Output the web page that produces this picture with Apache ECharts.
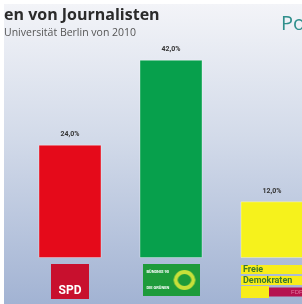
<!DOCTYPE html>
<html>
<head>
<meta charset="utf-8">
<script src="https://cdn.jsdelivr.net/npm/echarts@6/dist/echarts.min.js"></script>
<style>
  html, body { margin: 0; padding: 0; background: #fff; }
  #chart { width: 302px; height: 304px; }
</style>
</head>
<body>
<div id="chart"></div>
<script>
// Umfrage: Parteipräferenzen von Journalisten (FU Berlin, 2010)
const parties = ['SPD', 'Grüne', 'FDP'];
const shares = [24.0, 42.0, 12.0];
const barColors = ['#e50a1a', '#07a04c', '#f6f21c'];

// green logo background: box + sunflower ring, split in two halves (one per text line)
function greenHalf(top) {
    const c = document.createElement('canvas');
    c.width = 57; c.height = 16;
    const ctx = c.getContext('2d');
    ctx.fillStyle = '#1e9b3a';
    ctx.fillRect(0, 0, 57, 16);
    ctx.strokeStyle = '#c7e03a';
    ctx.lineWidth = 4;
    ctx.beginPath();
    ctx.arc(42, top ? 17 : -1, 9, 0, Math.PI * 2);
    ctx.stroke();
    return c;
}

const chart = echarts.init(document.getElementById('chart'));

const logoLabel = (name) => {
    if (name === 'SPD') return '{spd|SPD}';
    if (name === 'Grüne') return '{gt|BÜNDNIS 90}\n{gb|DIE GRÜNEN}';
    return '{fdp|Freie}\n{fdp|Demokraten}\n{fy|}{fm|FDP}';
};

const option = {
    backgroundColor: '#ffffff',
    graphic: [
        {
            type: 'rect',
            left: 4, top: 4,
            shape: { width: 298, height: 300 },
            style: {
                fill: new echarts.graphic.LinearGradient(0, 0, 0, 1, [
                    { offset: 0, color: '#f3f4f8' },
                    { offset: 0.45, color: '#d2dae9' },
                    { offset: 1, color: '#a2b3d3' }
                ])
            },
            z: -10
        },
        {
            type: 'text', left: 4, top: 7,
            style: { text: 'en von Journalisten', font: 'bold 16px "Open Sans", sans-serif', fill: '#2b2b2b' }
        },
        {
            type: 'text', left: 4, top: 28,
            style: { text: 'Universität Berlin von 2010', font: '10.5px "Open Sans", sans-serif', fill: '#555' }
        },
        {
            type: 'text', left: 281, top: 14,
            style: { text: 'Po', font: '20px "Open Sans", sans-serif', fill: '#2f8f8c' }
        }
    ],
    grid: { left: 19.5, width: 303, top: 22, bottom: 46, outerBoundsMode: 'none', containLabel: false },
    xAxis: {
        type: 'category',
        data: parties,
        axisLine: { show: false },
        axisTick: { show: false },
        axisLabel: {
            margin: 6,
            interval: 0,
            formatter: logoLabel,
            rich: {
                spd: {
                    backgroundColor: '#c8102e', color: '#fff',
                    fontFamily: 'Roboto', fontWeight: 'bold', fontSize: 12,
                    width: 38, height: 13, padding: [20, 0, 2, 0], align: 'center'
                },
                gt: {
                    backgroundColor: { image: greenHalf(true) }, color: '#fff',
                    fontFamily: 'Roboto', fontWeight: 'bold', fontSize: 4,
                    width: 53, height: 16, lineHeight: 16, padding: [0, 0, 0, 4],
                    verticalAlign: 'bottom', align: 'left'
                },
                gb: {
                    backgroundColor: { image: greenHalf(false) }, color: '#fff',
                    fontFamily: 'Roboto', fontWeight: 'bold', fontSize: 4,
                    width: 53, height: 16, lineHeight: 16, padding: [0, 0, 0, 4],
                    verticalAlign: 'top', align: 'left'
                },
                fdp: {
                    backgroundColor: '#f8ed1a', color: '#3d7a2a',
                    fontFamily: 'Roboto', fontWeight: 'bold', fontSize: 9, lineHeight: 11,
                    width: 60, align: 'left', padding: [0, 0, 0, 2]
                },
                fy: { backgroundColor: '#f8ed1a', width: 28, height: 12 },
                fm: {
                    backgroundColor: '#b5124f', color: '#e07aa0', fontSize: 6,
                    width: 34, height: 9, padding: [0, 0, 0, 0], align: 'right'
                }
            }
        }
    },
    yAxis: {
        type: 'value', min: 0, max: 50,
        show: false,
        splitLine: { show: false }
    },
    series: [{
        type: 'bar',
        barWidth: 63,
        data: shares.map((v, i) => ({
            value: v,
            itemStyle: { color: barColors[i], borderColor: 'rgba(255,255,255,0.35)', borderWidth: 1 }
        })),
        label: {
            show: true,
            position: 'top',
            distance: 7,
            formatter: (p) => p.value.toFixed(1).replace('.', ',') + '%',
            fontFamily: 'Roboto', fontWeight: 'bold', fontSize: 7, color: '#333'
        }
    }]
};

chart.setOption(option);
</script>
</body>
</html>
